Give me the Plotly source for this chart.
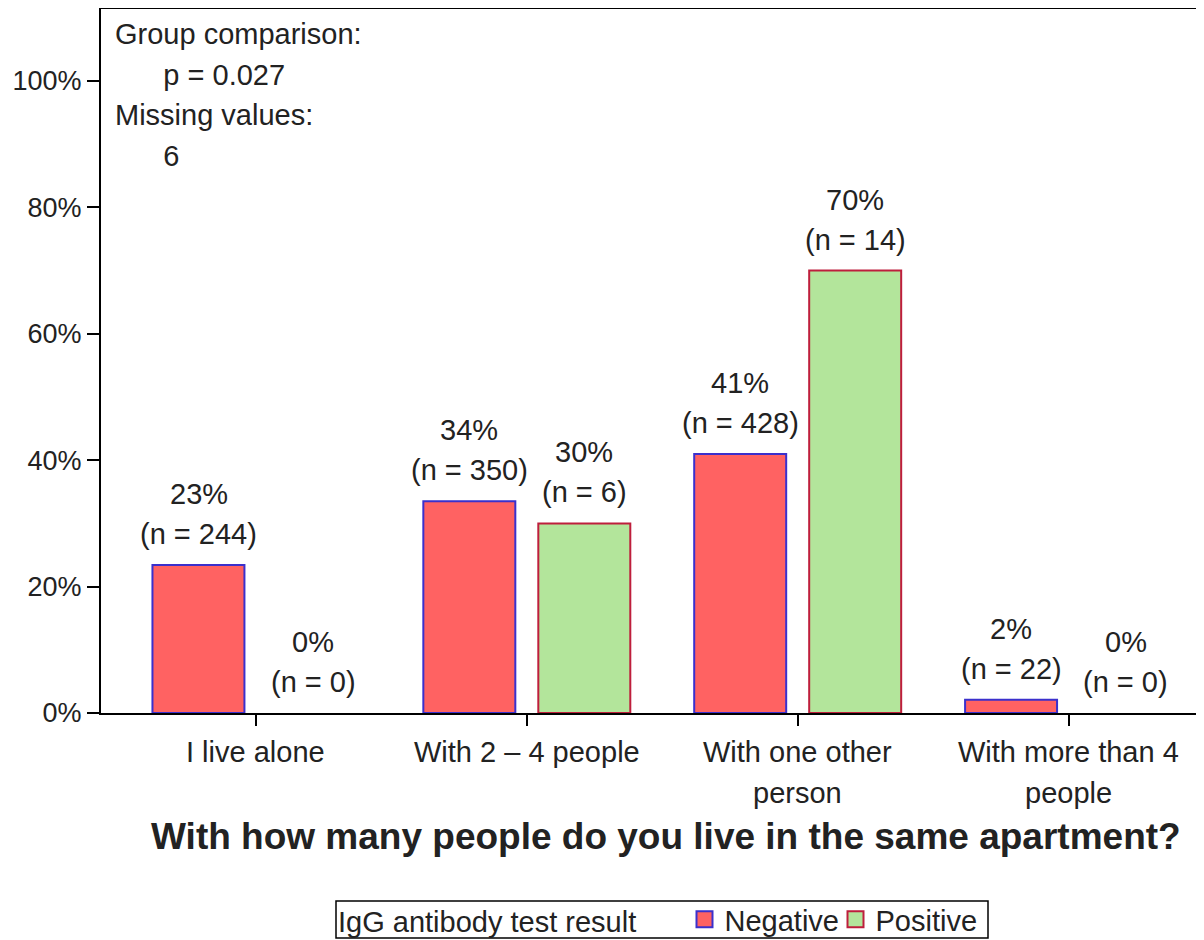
import plotly.graph_objects as go

categories = ["I live alone", "With 2 – 4 people", "With one other person", "With more than 4 people"]
tick_lines = [["I live alone"], ["With 2 – 4 people"], ["With one other", "person"], ["With more than 4", "people"]]
neg_pct = [23.4, 33.5, 41.0, 2.1]
neg_n = [244, 350, 428, 22]
pos_pct = [0, 30, 70, 0]
pos_n = [0, 6, 14, 0]
y_ticks = [0, 20, 40, 60, 80, 100]
info_lines = ["Group comparison:", "      p = 0.027", "Missing values:", "      6"]

FONT = "Liberation Sans, Arial, sans-serif"
TXT = "#222222"
FS = 29
NEG_FILL, NEG_LINE = "#ff6262", "#3b30cc"
POS_FILL, POS_LINE = "#b3e59b", "#be1e3c"

# the page body adds an 8px offset, so the figure is 8px smaller than the window
W, H = 1196, 932
L, T, B = 93, 1, 227
PW, PH = W - L, H - T - B

xs = list(range(len(categories)))

fig = go.Figure()
for name, vals, fill, edge in [("Negative", neg_pct, NEG_FILL, NEG_LINE),
                               ("Positive", pos_pct, POS_FILL, POS_LINE)]:
    # zero-height bars get no outline
    fig.add_trace(go.Bar(x=xs, y=vals, name=name, marker_color=fill, showlegend=False,
                         marker_line=dict(color=edge, width=[2 if v else 0 for v in vals])))
for name, fill, edge in [("Negative", NEG_FILL, NEG_LINE), ("Positive", POS_FILL, POS_LINE)]:
    # legend entries only
    fig.add_trace(go.Scatter(x=[None], y=[None], mode="markers", name=name,
                             marker=dict(symbol="square", size=16, color=fill,
                                         line=dict(color=edge, width=2))))

ann = []
# bar labels: two lines each, placed above the bars
for pcts, ns, shift in [(neg_pct, neg_n, -0.212), (pos_pct, pos_n, 0.212)]:
    for i, (p, n) in enumerate(zip(pcts, ns)):
        ann.append(dict(x=i + shift, y=p, xref="x", yref="y", text=f"(n = {n})",
                        showarrow=False, yanchor="middle", yshift=31,
                        font=dict(size=FS, color=TXT, family=FONT)))
        ann.append(dict(x=i + shift, y=p, xref="x", yref="y", text=f"{round(p)}%",
                        showarrow=False, yanchor="middle", yshift=71,
                        font=dict(size=FS, color=TXT, family=FONT)))

# category labels (one annotation per line for the wider line spacing)
for i, lines in enumerate(tick_lines):
    for j, line in enumerate(lines):
        ann.append(dict(x=i, y=0, xref="x", yref="paper", text=line, showarrow=False,
                        yanchor="middle", yshift=-39 - 41 * j,
                        font=dict(size=FS, color=TXT, family=FONT)))

# info box top left
for j, line in enumerate(info_lines):
    ann.append(dict(x=0, y=1, xref="paper", yref="paper", text=line.replace(" ", "&nbsp;"),
                    showarrow=False, xanchor="left", yanchor="middle",
                    xshift=12, yshift=-25 - 40.5 * j,
                    font=dict(size=FS, color=TXT, family=FONT)))

# axis title
ann.append(dict(x=(658 - L) / PW, y=0, xref="paper", yref="paper", showarrow=False,
                text="<b>With how many people do you live in the same apartment?</b>",
                yanchor="middle", yshift=-123,
                font=dict(size=37, color=TXT, family=FONT)))


def px_x(v):
    return (v - L) / PW


def px_y(v):
    return (T + PH - v) / PH


fig.update_layout(
    width=W, height=H,
    margin=dict(l=L, r=0, t=T, b=B, autoexpand=False),
    plot_bgcolor="white", paper_bgcolor="white",
    barmode="group", bargap=0.151, bargroupgap=0.2,
    font=dict(family=FONT, size=FS, color=TXT),
    annotations=ann,
    showlegend=True,
    legend=dict(orientation="h", x=px_x(328), xanchor="left", y=px_y(886), yanchor="top",
                borderwidth=0, bgcolor="rgba(0,0,0,0)",
                title=dict(text="IgG antibody test result" + "&nbsp;" * 5, font=dict(size=FS)),
                font=dict(size=FS, color=TXT, family=FONT),
                itemwidth=30, entrywidth=106, tracegroupgap=0),
    # frame around the legend
    shapes=[dict(type="rect", xref="paper", yref="paper",
                 x0=px_x(328), x1=px_x(980), y0=px_y(893), y1=px_y(930),
                 line=dict(color="black", width=1.5))],
)
fig.update_xaxes(range=[-0.572, 3.5], tickvals=xs, showticklabels=False,
                 ticks="outside", ticklen=11, tickwidth=2, tickcolor="black",
                 showline=True, linecolor="black", linewidth=2, mirror=True,
                 showgrid=False, zeroline=False)
fig.update_yaxes(range=[0, PH / 6.32], tickvals=y_ticks, ticktext=[f"{v}%" for v in y_ticks],
                 ticks="outside", ticklen=12, tickwidth=2, tickcolor="black",
                 showline=True, linecolor="black", linewidth=2,
                 showgrid=False, zeroline=False,
                 tickfont=dict(size=27, color=TXT, family=FONT))

fig.write_html("out.html")
